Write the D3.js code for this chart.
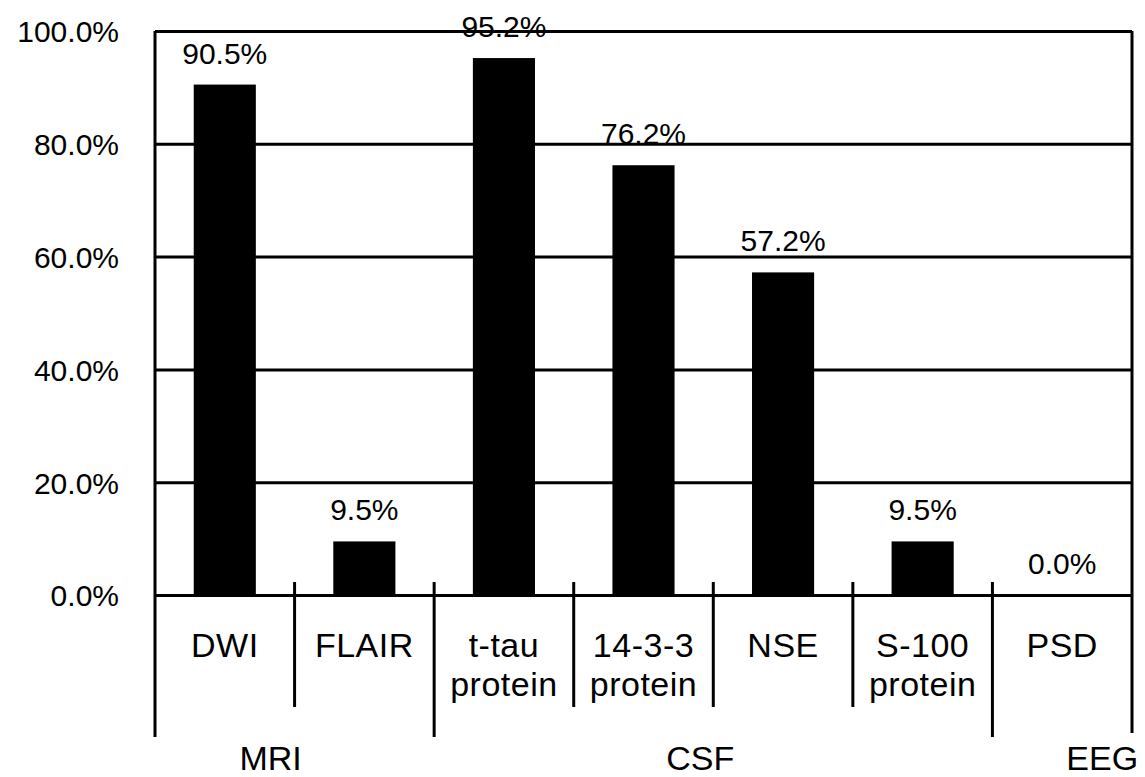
<!DOCTYPE html>
<html>
<head>
<meta charset="utf-8">
<script src="https://cdn.jsdelivr.net/npm/d3@7"></script>
<style>
  html, body { margin: 0; padding: 0; background: #fff; }
  svg { display: block; }
  text { font-family: "Liberation Sans", Arial, sans-serif; fill: #000; }
</style>
</head>
<body>
<svg id="chart" width="1145" height="777"></svg>
<script>
// Detection rates by examination
const categories = ["DWI", "FLAIR", "t-tau protein", "14-3-3 protein", "NSE", "S-100 protein", "PSD"];
const categoryLines = [["DWI"], ["FLAIR"], ["t-tau", "protein"], ["14-3-3", "protein"], ["NSE"], ["S-100", "protein"], ["PSD"]];
const rates = [90.5, 9.5, 95.2, 76.2, 57.2, 9.5, 0.0];
const yTicks = [0, 20, 40, 60, 80, 100];

// Examination groups spanning the categories
const groupNames = ["MRI", "CSF", "EEG"];
const groupFirst = ["DWI", "t-tau protein", "PSD"];
const groupLast = ["FLAIR", "S-100 protein", "PSD"];

const svg = d3.select("#chart");
const plotLeft = 155, plotRight = 1132, plotTop = 31, plotZero = 595;

const x = d3.scaleBand().domain(categories).range([plotLeft, plotRight]).padding(0);
const y = d3.scaleLinear().domain([0, 100]).range([plotZero, plotTop]);
const bw = x.bandwidth();
const barW = bw * 0.445;

// Horizontal gridlines
const grid = svg.append("g").attr("transform", `translate(${plotLeft},0)`)
  .call(d3.axisLeft(y).tickValues(yTicks).tickSize(-(plotRight - plotLeft)).tickFormat(""));
grid.select(".domain").remove();
grid.selectAll(".tick line").attr("stroke", "#000").attr("stroke-width", 3);

// Y tick labels
const yAxis = svg.append("g").attr("transform", `translate(${plotLeft},0)`)
  .call(d3.axisLeft(y).tickValues(yTicks).tickSize(0).tickPadding(36)
    .tickFormat(d => d3.format(".1f")(d) + "%"));
yAxis.select(".domain").remove();
yAxis.selectAll("text").attr("font-size", 30)
  .style("font-family", '"Liberation Sans", Arial, sans-serif').attr("dy", "0.36em");

// Bars
svg.append("g").selectAll("rect").data(rates).join("rect")
  .attr("x", (d, i) => x(categories[i]) + (bw - barW) / 2)
  .attr("y", d => y(d))
  .attr("width", barW)
  .attr("height", d => y(0) - y(d))
  .attr("fill", "#000");

// Value labels
svg.append("g").selectAll("text").data(rates).join("text")
  .attr("x", (d, i) => x(categories[i]) + bw / 2)
  .attr("y", d => y(d) - 21)
  .attr("text-anchor", "middle")
  .attr("font-size", 30)
  .text(d => d3.format(".1f")(d) + "%");

// Frame: left axis, right border
const groupEndIdx = groupLast.map(c => categories.indexOf(c));
svg.append("line").attr("x1", plotLeft).attr("x2", plotLeft).attr("y1", plotTop).attr("y2", 737)
  .attr("stroke", "#000").attr("stroke-width", 3);
svg.append("line").attr("x1", plotRight).attr("x2", plotRight).attr("y1", plotTop).attr("y2", 733)
  .attr("stroke", "#000").attr("stroke-width", 3);

// Category separators: long between groups, short within a group
svg.append("g").selectAll("line").data(categories.slice(1)).join("line")
  .attr("x1", d => x(d)).attr("x2", d => x(d))
  .attr("y1", plotZero - 13)
  .attr("y2", (d, i) => groupEndIdx.includes(i) ? 737 : 707)
  .attr("stroke", "#000").attr("stroke-width", 3);

// Category labels
const cat = svg.append("g").selectAll("text").data(categories).join("text")
  .attr("x", d => x(d) + bw / 2)
  .attr("y", 657)
  .attr("text-anchor", "middle")
  .attr("font-size", 34)
  .attr("letter-spacing", 0.5);
cat.each(function(d, i) {
  const t = d3.select(this);
  categoryLines[i].forEach((line, k) => {
    t.append("tspan").attr("x", x(d) + bw / 2).attr("y", 657 + k * 39).text(line);
  });
});

// Group labels
const groupShift = [-24, -13, 40];
svg.append("g").selectAll("text").data(groupNames).join("text")
  .attr("x", (d, i) => (x(groupFirst[i]) + x(groupLast[i]) + bw) / 2 + groupShift[i])
  .attr("y", 770)
  .attr("text-anchor", "middle")
  .attr("font-size", 34)
  .text(d => d);
</script>
</body>
</html>
